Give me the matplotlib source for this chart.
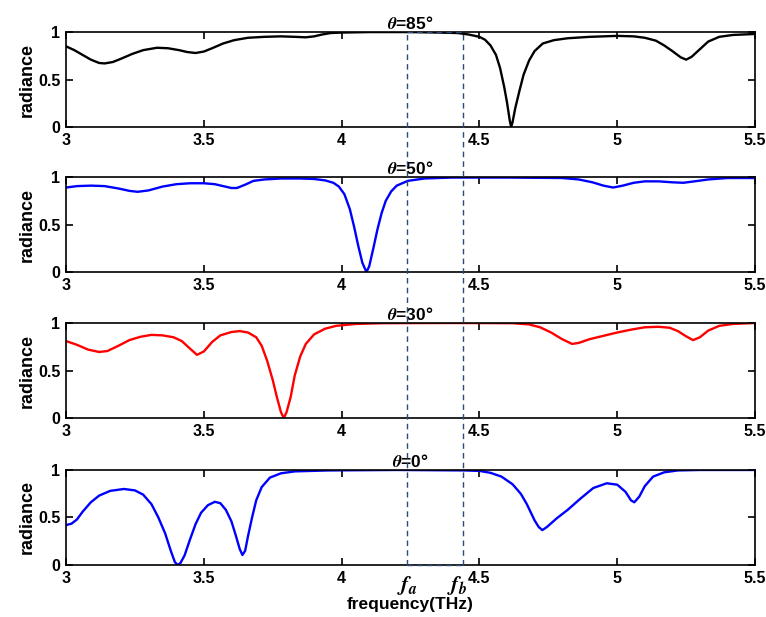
import numpy as np
import matplotlib
matplotlib.use("Agg")
import matplotlib.pyplot as plt
from matplotlib.lines import Line2D

plt.rcParams['font.family'] = ['Liberation Sans', 'DejaVu Sans']
plt.rcParams['font.weight'] = 'bold'
plt.rcParams['mathtext.fontset'] = 'stix'

# theta = 85 deg (black)
f85 = [3.00, 3.03, 3.06, 3.09, 3.12, 3.14, 3.17, 3.20, 3.24, 3.28, 3.33, 3.37, 3.41, 3.44, 3.47,
       3.50, 3.53, 3.57, 3.61, 3.66, 3.72, 3.78, 3.83, 3.87, 3.90, 3.93, 3.96, 4.00, 4.10, 4.25,
       4.35, 4.42, 4.46, 4.50, 4.52, 4.54, 4.56, 4.575, 4.59, 4.60, 4.61, 4.615, 4.62, 4.63, 4.645,
       4.66, 4.68, 4.70, 4.73, 4.77, 4.82, 4.90, 5.00, 5.06, 5.10, 5.14, 5.17, 5.20, 5.23, 5.25,
       5.27, 5.30, 5.33, 5.37, 5.42, 5.50]
r85 = [0.85, 0.81, 0.76, 0.71, 0.675, 0.67, 0.685, 0.72, 0.77, 0.81, 0.835, 0.83, 0.81, 0.79, 0.78,
       0.795, 0.83, 0.88, 0.915, 0.94, 0.95, 0.955, 0.95, 0.945, 0.955, 0.975, 0.99, 0.995, 1.0, 1.0,
       0.995, 0.99, 0.975, 0.95, 0.92, 0.86, 0.76, 0.62, 0.42, 0.26, 0.07, 0.0, 0.05, 0.20, 0.38,
       0.55, 0.70, 0.80, 0.88, 0.915, 0.935, 0.95, 0.96, 0.955, 0.94, 0.91, 0.86, 0.80, 0.735, 0.71,
       0.74, 0.82, 0.90, 0.95, 0.97, 0.98]

# theta = 50 deg (blue)
f50 = [3.00, 3.04, 3.09, 3.14, 3.19, 3.23, 3.26, 3.30, 3.35, 3.40, 3.45, 3.50, 3.54, 3.57, 3.60,
       3.62, 3.65, 3.68, 3.72, 3.78, 3.85, 3.90, 3.94, 3.97, 3.99, 4.01, 4.03, 4.045, 4.06, 4.075,
       4.09, 4.10, 4.115, 4.13, 4.145, 4.16, 4.18, 4.20, 4.24, 4.30, 4.40, 4.60, 4.80, 4.86, 4.91,
       4.95, 4.985, 5.02, 5.06, 5.10, 5.15, 5.20, 5.24, 5.28, 5.33, 5.40, 5.50]
r50 = [0.89, 0.905, 0.91, 0.905, 0.88, 0.855, 0.845, 0.86, 0.90, 0.925, 0.935, 0.935, 0.925, 0.905, 0.885,
       0.885, 0.92, 0.96, 0.975, 0.985, 0.985, 0.98, 0.965, 0.94, 0.90, 0.82, 0.66, 0.48, 0.28, 0.10,
       0.0, 0.06, 0.25, 0.45, 0.62, 0.75, 0.85, 0.91, 0.96, 0.985, 0.995, 0.995, 0.99, 0.975, 0.945,
       0.91, 0.89, 0.91, 0.94, 0.955, 0.955, 0.945, 0.94, 0.955, 0.975, 0.99, 0.99]

# theta = 30 deg (red)
f30 = [3.00, 3.04, 3.08, 3.12, 3.15, 3.19, 3.23, 3.27, 3.31, 3.35, 3.39, 3.42, 3.45, 3.475, 3.50,
       3.53, 3.56, 3.60, 3.63, 3.66, 3.69, 3.71, 3.73, 3.75, 3.765, 3.78, 3.79, 3.80, 3.815, 3.83,
       3.85, 3.87, 3.90, 3.94, 3.98, 4.05, 4.15, 4.40, 4.62, 4.68, 4.72, 4.76, 4.80, 4.836, 4.86,
       4.90, 4.95, 5.00, 5.05, 5.10, 5.15, 5.19, 5.22, 5.25, 5.275, 5.30, 5.33, 5.37, 5.42, 5.50]
r30 = [0.81, 0.77, 0.72, 0.695, 0.705, 0.76, 0.82, 0.855, 0.875, 0.87, 0.85, 0.81, 0.73, 0.665, 0.70,
       0.80, 0.87, 0.905, 0.915, 0.90, 0.85, 0.76, 0.60, 0.40, 0.22, 0.06, 0.0, 0.06, 0.22, 0.45,
       0.65, 0.78, 0.88, 0.94, 0.97, 0.99, 0.998, 1.0, 0.998, 0.985, 0.955, 0.90, 0.83, 0.78, 0.79,
       0.83, 0.865, 0.90, 0.93, 0.955, 0.96, 0.95, 0.915, 0.86, 0.82, 0.85, 0.92, 0.97, 0.99, 1.0]

# theta = 0 deg (blue)
f0 = [3.00, 3.02, 3.04, 3.06, 3.09, 3.12, 3.16, 3.21, 3.25, 3.28, 3.31, 3.335, 3.36, 3.38, 3.395,
      3.405, 3.415, 3.43, 3.45, 3.47, 3.49, 3.515, 3.54, 3.56, 3.58, 3.60, 3.615, 3.63, 3.64, 3.65,
      3.66, 3.675, 3.69, 3.71, 3.74, 3.78, 3.83, 3.95, 4.20, 4.45, 4.50, 4.54, 4.58, 4.62, 4.65,
      4.672, 4.70, 4.715, 4.728, 4.745, 4.78, 4.82, 4.865, 4.913, 4.962, 5.00, 5.03, 5.05, 5.062,
      5.08, 5.10, 5.13, 5.17, 5.22, 5.30, 5.50]
r0 = [0.42, 0.435, 0.48, 0.56, 0.66, 0.73, 0.78, 0.80, 0.785, 0.74, 0.64, 0.50, 0.33, 0.15, 0.03,
      0.0, 0.02, 0.10, 0.27, 0.43, 0.55, 0.63, 0.665, 0.65, 0.58, 0.46, 0.32, 0.17, 0.105, 0.15,
      0.30, 0.50, 0.68, 0.82, 0.92, 0.965, 0.985, 0.995, 1.0, 0.995, 0.99, 0.97, 0.93, 0.85, 0.75,
      0.64, 0.47, 0.40, 0.367, 0.40, 0.49, 0.58, 0.695, 0.81, 0.86, 0.845, 0.77, 0.68, 0.66,
      0.72, 0.83, 0.93, 0.975, 0.995, 1.0, 1.0]

titles = ['85°', '50°', '30°', '0°']
freqs = [f85, f50, f30, f0]
rads = [r85, r50, r30, r0]
colors = ['black', 'blue', 'red', 'blue']

fa = 4.237
fb = 4.44

fig = plt.figure(figsize=(7.66, 6.17), dpi=100)
left = 0.0862
width = 0.8995
height = 0.154
bottoms = [0.794, 0.559, 0.3225, 0.0843]

axes = []
for i in range(4):
    ax = fig.add_axes([left, bottoms[i], width, height])
    ax.plot(freqs[i], rads[i], color=colors[i], linewidth=1.7)
    ax.set_xlim(3, 5.5)
    ax.set_ylim(0, 1)
    ax.set_xticks([3, 3.5, 4, 4.5, 5, 5.5])
    ax.set_xticklabels(['3', '3.5', '4', '4.5', '5', '5.5'])
    ax.set_yticks([0, 0.5, 1])
    ax.set_yticklabels(['0', '0.5', '1'])
    ax.tick_params(direction='in', top=True, right=True, length=5, width=1.2,
                   labelsize=11.5, pad=4)
    for s in ax.spines.values():
        s.set_linewidth(1.2)
    ax.set_ylabel('radiance', fontsize=13, fontweight='bold', labelpad=2)
    ax.set_title(r'$\theta$=' + titles[i], fontsize=12.5, fontweight='bold', pad=2)
    axes.append(ax)

axes[3].set_xlabel('frequency(THz)', fontsize=12.5, fontweight='bold', labelpad=8)

# dashed box spanning all panels
xa = left + (fa - 3) / 2.5 * width
xb = left + (fb - 3) / 2.5 * width
ytop = bottoms[0] + height
ybot = bottoms[3]
box_col = '#2b4a7a'
for xs, ys in [([xa, xa], [ybot, ytop]), ([xb, xb], [ybot, ytop]),
               ([xa, xb], [ytop, ytop]), ([xa, xb], [ybot, ybot])]:
    fig.add_artist(Line2D(xs, ys, transform=fig.transFigure, color=box_col,
                          linestyle='--', linewidth=1.0, dashes=(4, 3)))

axes[3].text(fa, -0.09, r'$f_a$', fontsize=16, ha='center', va='top',
             transform=axes[3].get_xaxis_transform())
axes[3].text(fb - 0.02, -0.09, r'$f_b$', fontsize=16, ha='center', va='top',
             transform=axes[3].get_xaxis_transform())

plt.savefig('out.png', dpi=100)
